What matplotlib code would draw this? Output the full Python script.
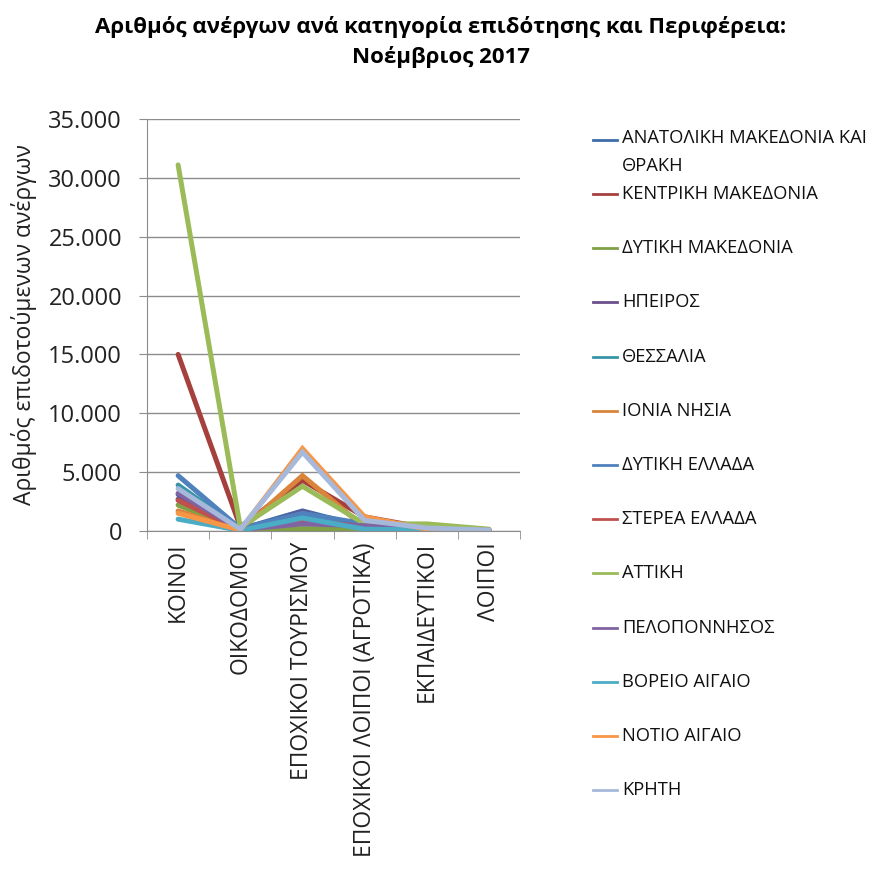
import matplotlib
matplotlib.use("Agg")
import matplotlib.pyplot as plt
from matplotlib.lines import Line2D
import numpy as np

plt.rcParams['font.family'] = ['Open Sans', 'DejaVu Sans']

categories = ["ΚΟΙΝΟΙ", "ΟΙΚΟΔΟΜΟΙ", "ΕΠΟΧΙΚΟΙ ΤΟΥΡΙΣΜΟΥ",
              "ΕΠΟΧΙΚΟΙ ΛΟΙΠΟΙ (ΑΓΡΟΤΙΚΑ)", "ΕΚΠΑΙΔΕΥΤΙΚΟΙ", "ΛΟΙΠΟΙ"]

regions = ["ΑΝΑΤΟΛΙΚΗ ΜΑΚΕΔΟΝΙΑ ΚΑΙ\nΘΡΑΚΗ", "ΚΕΝΤΡΙΚΗ ΜΑΚΕΔΟΝΙΑ", "ΔΥΤΙΚΗ ΜΑΚΕΔΟΝΙΑ",
           "ΗΠΕΙΡΟΣ", "ΘΕΣΣΑΛΙΑ", "ΙΟΝΙΑ ΝΗΣΙΑ", "ΔΥΤΙΚΗ ΕΛΛΑΔΑ", "ΣΤΕΡΕΑ ΕΛΛΑΔΑ",
           "ΑΤΤΙΚΗ", "ΠΕΛΟΠΟΝΝΗΣΟΣ", "ΒΟΡΕΙΟ ΑΙΓΑΙΟ", "ΝΟΤΙΟ ΑΙΓΑΙΟ", "ΚΡΗΤΗ"]

anatoliki_makedonia = [3100, 150, 1700, 350, 150, 60]
kentriki_makedonia  = [15000, 350, 4300, 1200, 250, 120]
dytiki_makedonia    = [2200, 80, 200, 150, 80, 30]
ipeiros             = [2700, 100, 1600, 250, 100, 40]
thessalia           = [3900, 150, 1200, 500, 150, 60]
ionia_nisia         = [1700, 60, 4700, 300, 80, 30]
dytiki_ellada       = [4700, 200, 1500, 600, 200, 70]
sterea_ellada       = [2600, 100, 800, 400, 120, 50]
attiki              = [31100, 300, 3800, 600, 600, 150]
peloponnisos        = [3200, 120, 600, 450, 130, 50]
voreio_aigaio       = [1000, 50, 1100, 150, 80, 30]
notio_aigaio        = [1500, 80, 7000, 1200, 150, 50]
kriti               = [3600, 150, 6700, 900, 250, 80]

series = [anatoliki_makedonia, kentriki_makedonia, dytiki_makedonia, ipeiros,
          thessalia, ionia_nisia, dytiki_ellada, sterea_ellada, attiki,
          peloponnisos, voreio_aigaio, notio_aigaio, kriti]

colors = ["#3E6DA8", "#A5403D", "#80A046", "#6A4F8C", "#3994A8", "#D9843A",
          "#4F81BD", "#C0504D", "#9BBB59", "#8064A2", "#4BACC6", "#F79646", "#A6B9DB"]

W, H = 882, 874
fig = plt.figure(figsize=(W / 100, H / 100), dpi=100)
ax = fig.add_axes([0.1667, 0.3925, 0.4229, 0.4713])

x = np.arange(len(categories))
for vals, c in zip(series, colors):
    ax.plot(x, vals, color=c, lw=3.6, solid_joinstyle='miter', solid_capstyle='round')

ax.set_xlim(-0.5, len(categories) - 0.5)
ax.set_ylim(0, 35000)
ax.set_yticks(np.arange(0, 35001, 5000))
ax.set_yticklabels(["0" if v == 0 else f"{v:,}".replace(",", ".") for v in range(0, 35001, 5000)],
                   fontsize=17, color="#222222")
ax.yaxis.grid(True, color="#8C8C8C", lw=1)
ax.set_axisbelow(True)

ax.set_xticks(x)
ax.set_xticklabels(categories, rotation=90, fontsize=16.5, color="#222222")
ax.set_xticks(np.arange(-0.5, len(categories)), minor=True)
ax.tick_params(axis='x', which='major', length=0, pad=8)
ax.tick_params(axis='x', which='minor', length=6, color="#8C8C8C")
ax.tick_params(axis='y', length=6, color="#8C8C8C", pad=12)

for s in ["top", "right"]:
    ax.spines[s].set_visible(False)
ax.spines["left"].set_color("#8C8C8C")
ax.spines["bottom"].set_color("#8C8C8C")

ax.set_ylabel("Αριθμός επιδοτούμενων ανέργων", fontsize=16.5, color="#222222", labelpad=8)

fig.suptitle("Αριθμός ανέργων ανά κατηγορία επιδότησης και Περιφέρεια:\nΝοέμβριος 2017",
             fontsize=16, fontweight='bold', y=0.982, linespacing=1.5)

# Legend (manual layout to mimic the spreadsheet legend)
line_x0, line_x1, text_x = 593 / W, 617 / W, 622 / W
first_y = 140
line2_dy = 28
step = 54.2
fs = 13.2
for i, (lab, c) in enumerate(zip(regions, colors)):
    if i == 0:
        y_px = first_y
        parts = lab.split("\n")
        fig.add_artist(Line2D([line_x0, line_x1], [1 - y_px / H] * 2, color=c, lw=2,
                              transform=fig.transFigure))
        for k, p in enumerate(parts):
            fig.text(text_x, 1 - (y_px - 2 + k * line2_dy) / H, p, fontsize=fs,
                     va='center', ha='left', color="#111111")
    else:
        y_px = first_y + 54 + (i - 1) * step
        fig.add_artist(Line2D([line_x0, line_x1], [1 - y_px / H] * 2, color=c, lw=2,
                              transform=fig.transFigure))
        fig.text(text_x, 1 - y_px / H, lab, fontsize=fs, va='center', ha='left',
                 color="#111111")

fig.savefig("out.png", dpi=100)
